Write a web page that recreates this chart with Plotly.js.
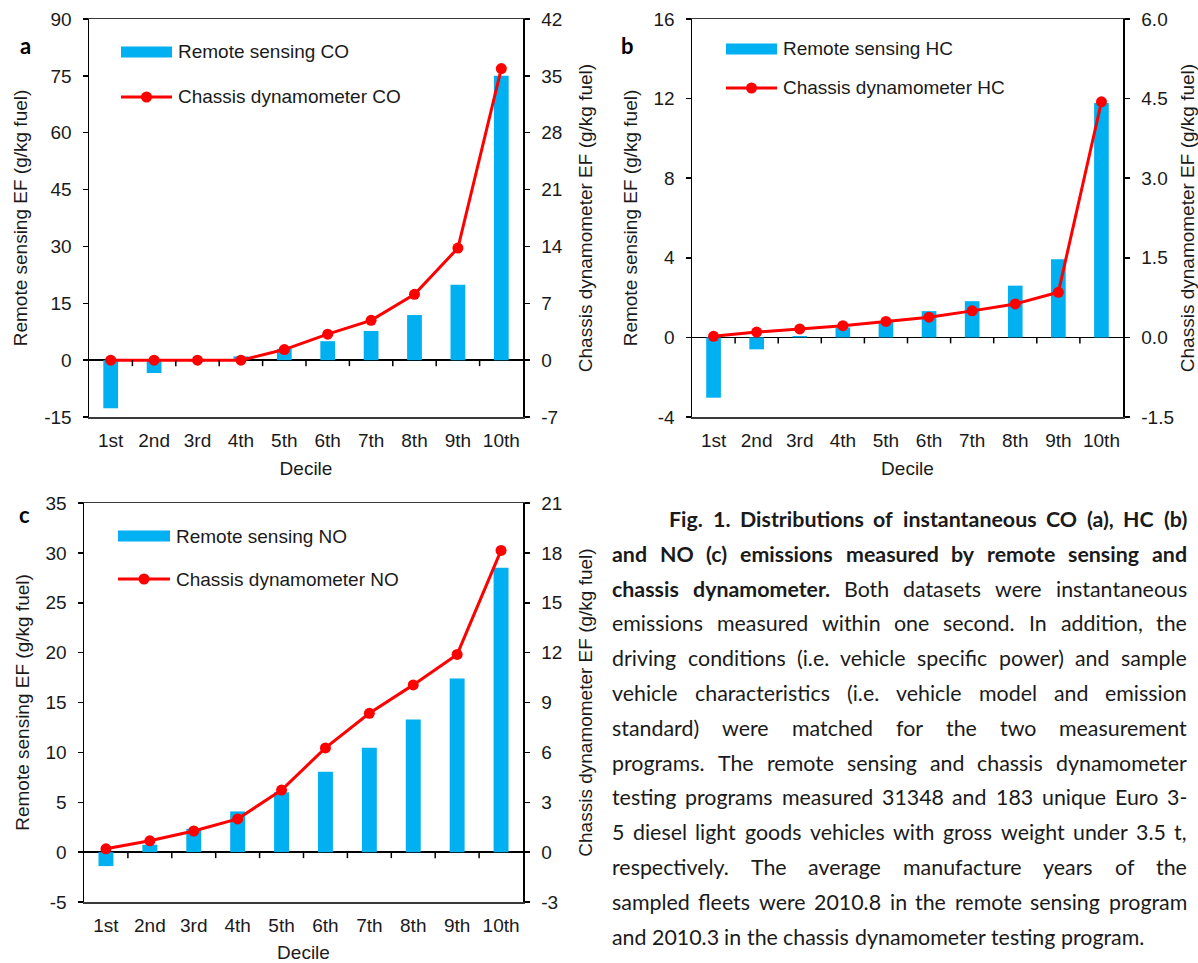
<!DOCTYPE html>
<html>
<head>
<meta charset="utf-8">
<script src="https://cdn.plot.ly/plotly-3.0.1.min.js"></script>
<style>
  html, body { margin: 0; padding: 0; background: #fff; }
  #chart { width: 1198px; height: 963px; }
</style>
</head>
<body>
<div id="chart"></div>
<script>
// ---------------- data ----------------
const categories = ['1st', '2nd', '3rd', '4th', '5th', '6th', '7th', '8th', '9th', '10th'];
const rsCO = [-12.7, -3.4, -0.4, 1.0, 3.0, 5.0, 7.7, 11.9, 19.9, 75.0];
const cdCO = [0.0, 0.0, 0.0, 0.0, 1.3, 3.2, 4.9, 8.1, 13.8, 35.9];
const rsHC = [-3.03, -0.6, 0.07, 0.5, 0.8, 1.32, 1.82, 2.6, 3.93, 11.78];
const cdHC = [0.02, 0.1, 0.16, 0.22, 0.3, 0.38, 0.5, 0.63, 0.85, 4.44];
const rsNO = [-1.4, 0.74, 2.34, 4.08, 6.0, 8.06, 10.47, 13.3, 17.4, 28.5];
const cdNO = [0.2, 0.68, 1.27, 2.0, 3.73, 6.27, 8.35, 10.06, 11.89, 18.15];

const seriesNames = [
  ['Remote sensing CO', 'Chassis dynamometer CO'],
  ['Remote sensing HC', 'Chassis dynamometer HC'],
  ['Remote sensing NO', 'Chassis dynamometer NO']
];
const leftTitle = 'Remote sensing EF (g/kg fuel)';
const rightTitle = 'Chassis dynamometer EF (g/kg fuel)';
const xTitle = 'Decile';
const panelLetters = ['a', 'b', 'c'];

const captionLines = [
  [['Fig. 1. Distributions of instantaneous CO (a), HC (b)', true]],
  [['and NO (c) emissions measured by remote sensing and', true]],
  [['chassis dynamometer.', true], ['Both datasets were instantaneous', false]],
  [['emissions measured within one second. In addition, the', false]],
  [['driving conditions (i.e. vehicle specific power) and sample', false]],
  [['vehicle characteristics (i.e. vehicle model and emission', false]],
  [['standard) were matched for the two measurement', false]],
  [['programs. The remote sensing and chassis dynamometer', false]],
  [['testing programs measured 31348 and 183 unique Euro 3-', false]],
  [['5 diesel light goods vehicles with gross weight under 3.5 t,', false]],
  [['respectively. The average manufacture years of the', false]],
  [['sampled fleets were 2010.8 in the remote sensing program', false]],
  [['and 2010.3 in the chassis dynamometer testing program.', false]]
];

// ---------------- styling ----------------
const W = 1198, H = 963;
const FONT = 'Liberation Sans, Arial, sans-serif';
const FS = 19;
const TXT = '#1a1a1a';
const BLUE = '#00B0F0';
const RED = '#FF0000';
const xs = categories.map((_, i) => i + 1);

function px(x) { return x / W; }
function py(y) { return 1 - y / H; }

function barTrace(vals, name, xa, ya) {
  return { type: 'bar', x: xs, y: vals, name: name, xaxis: xa, yaxis: ya,
    width: 0.34, marker: { color: BLUE, line: { width: 0 } }, showlegend: false };
}
function lineTrace(vals, name, xa, ya) {
  return { type: 'scatter', mode: 'lines+markers', x: xs, y: vals, name: name,
    xaxis: xa, yaxis: ya, line: { color: RED, width: 3 },
    marker: { color: RED, size: 11, symbol: 'circle' }, showlegend: false };
}

const traces = [
  barTrace(rsCO, seriesNames[0][0], 'x', 'y'),
  lineTrace(cdCO, seriesNames[0][1], 'x', 'y2'),
  barTrace(rsHC, seriesNames[1][0], 'x2', 'y3'),
  lineTrace(cdHC, seriesNames[1][1], 'x2', 'y4'),
  barTrace(rsNO, seriesNames[2][0], 'x3', 'y5'),
  lineTrace(cdNO, seriesNames[2][1], 'x3', 'y6')
];

function ticksFor(range, dtick, dec) {
  const vals = [], txt = [];
  const n = Math.round((range[1] - range[0]) / dtick);
  for (let i = 0; i <= n; i++) {
    const v = +(range[0] + i * dtick).toFixed(6);
    vals.push(v);
    txt.push(v.toFixed(dec)); // keeps ASCII hyphen for negatives
  }
  return { tickvals: vals, ticktext: txt };
}

function xAxis(dom, anchor) {
  return { domain: dom, anchor: anchor, range: [0.5, 10.5], tickvals: xs, ticktext: categories,
    showgrid: false, zeroline: false, showline: true, mirror: true, linecolor: '#3a3a3a', linewidth: 1.5,
    ticks: '', ticklabelstandoff: 6, tickfont: { family: FONT, size: FS, color: TXT },
    title: { text: xTitle, font: { family: FONT, size: FS, color: TXT }, standoff: 11 },
    automargin: false, fixedrange: true };
}
function yLeft(dom, anchor, range, dtick, dec) {
  const t = ticksFor(range, dtick, dec || 0);
  return { domain: dom, anchor: anchor, range: range, tickvals: t.tickvals, ticktext: t.ticktext,
    showgrid: false, zeroline: true, zerolinecolor: '#000', zerolinewidth: 1.5,
    showline: true, linecolor: '#000', linewidth: 1.5, ticks: 'outside', ticklen: 5, tickwidth: 1.5, tickcolor: '#000',
    ticklabelstandoff: 7, tickfont: { family: FONT, size: FS, color: TXT },
    title: { text: leftTitle, font: { family: FONT, size: FS, color: TXT }, standoff: 11 },
    automargin: false, fixedrange: true };
}
function yRight(overlay, anchor, range, dtick, dec, standoff) {
  const t = ticksFor(range, dtick, dec || 0);
  return { overlaying: overlay, anchor: anchor, side: 'right', range: range,
    tickvals: t.tickvals, ticktext: t.ticktext, showgrid: false, zeroline: false,
    showline: true, linecolor: '#000', linewidth: 1.5, ticks: 'outside', ticklen: 5, tickwidth: 1.5, tickcolor: '#000',
    ticklabelstandoff: 8, tickfont: { family: FONT, size: FS, color: TXT },
    title: { text: rightTitle, font: { family: FONT, size: FS, color: TXT }, standoff: standoff },
    automargin: false, fixedrange: true };
}

const domA = [px(89), px(523)], domB = [px(692), px(1123)], domC = [px(84), px(523)];
const domTop = [py(417), py(19)], domBot = [py(902), py(503)];

// tick marks on the zero line between categories
const shapes = [];
[['x', 'y'], ['x2', 'y3'], ['x3', 'y5']].forEach(([xa, ya]) => {
  for (let i = 1; i < categories.length; i++) {
    shapes.push({ type: 'line', xref: xa, yref: ya, x0: i + 0.5, x1: i + 0.5,
      ysizemode: 'pixel', yanchor: 0, y0: 0, y1: -6, line: { color: '#000', width: 1.5 } });
  }
});

const annotations = [];
// panel letters
[[18, 30], [627, 30], [17, 514]].forEach(([x, y], i) => {
  annotations.push({ text: '<b>' + panelLetters[i] + '</b>', x: px(x), y: py(y), xref: 'paper', yref: 'paper',
    showarrow: false, font: { family: 'Lato, sans-serif', size: 22, color: '#000' } });
});

// legends (swatch + text) for each panel: [swatchLeft, swatchRight, textX, row1Y, row2Y]
const legendPos = [[121, 172, 177, 52, 97], [726, 777, 782, 49, 88], [118, 170, 175, 536, 579]];
legendPos.forEach(([s0, s1, tx, r1, r2], i) => {
  shapes.push({ type: 'rect', xref: 'paper', yref: 'paper', x0: px(s0), x1: px(s1), y0: py(r1 - 5.5), y1: py(r1 + 5.5),
    fillcolor: BLUE, line: { width: 0 } });
  shapes.push({ type: 'line', xref: 'paper', yref: 'paper', x0: px(s0), x1: px(s1), y0: py(r2), y1: py(r2),
    line: { color: RED, width: 3 } });
  const cx = (s0 + s1) / 2;
  shapes.push({ type: 'circle', xref: 'paper', yref: 'paper', x0: px(cx - 5.5), x1: px(cx + 5.5), y0: py(r2 - 5.5), y1: py(r2 + 5.5),
    fillcolor: RED, line: { width: 0 } });
  [[seriesNames[i][0], r1], [seriesNames[i][1], r2]].forEach(([t, y]) => {
    annotations.push({ text: t, x: px(tx), y: py(y), xref: 'paper', yref: 'paper', xanchor: 'left', yanchor: 'middle',
      showarrow: false, borderpad: 0, font: { family: FONT, size: FS, color: TXT } });
  });
});

// ---------------- caption layout (justified text) ----------------
const CAP_FONT = 'Lato';
const cv = document.createElement('canvas').getContext('2d');
function measure(t, bold, size) { cv.font = (bold ? 'bold ' : '') + size + 'px ' + CAP_FONT; return cv.measureText(t).width; }
function wordsOf(line) {
  const w = [];
  line.forEach(([t, b]) => t.split(' ').forEach(s => { if (s) w.push([s, b]); }));
  return w;
}
const lastWords = wordsOf(captionLines[captionLines.length - 1]);
const refSize = 20;
const lastW = lastWords.reduce((s, [t, b]) => s + measure(t, b, refSize), 0) + (lastWords.length - 1) * measure(' ', false, refSize);
let capSize = refSize * 532 / lastW;
capSize = Math.max(15, Math.min(23, capSize));
const capLeft = 611, capRight = 1186, capIndent = 668, capTop = 519, capStep = 34.8;
captionLines.forEach((line, li) => {
  const words = wordsOf(line);
  const x0 = li === 0 ? capIndent : capLeft;
  const widths = words.map(([t, b]) => measure(t, b, capSize));
  const total = widths.reduce((a, b) => a + b, 0);
  const isLast = li === captionLines.length - 1;
  const gap = isLast ? measure(' ', false, capSize) : (capRight - x0 - total) / (words.length - 1);
  let x = x0;
  words.forEach(([t, b], wi) => {
    annotations.push({ text: b ? '<b>' + t + '</b>' : t, x: px(x), y: py(capTop + li * capStep),
      xref: 'paper', yref: 'paper', xanchor: 'left', yanchor: 'middle', showarrow: false,
      borderpad: 0, font: { family: CAP_FONT + ', sans-serif', size: capSize, color: '#1a1a1a' } });
    x += widths[wi] + gap;
  });
});

const layout = {
  width: W, height: H, margin: { l: 0, r: 0, t: 0, b: 0 },
  paper_bgcolor: '#fff', plot_bgcolor: 'rgba(0,0,0,0)', showlegend: false,
  barmode: 'overlay',
  xaxis: xAxis(domA, 'y'),
  yaxis: yLeft(domTop, 'x', [-15, 90], 15),
  yaxis2: yRight('y', 'x', [-7, 42], 7, 0, 17),
  xaxis2: xAxis(domB, 'y3'),
  yaxis3: yLeft(domTop, 'x2', [-4, 16], 4),
  yaxis4: yRight('y3', 'x2', [-1.5, 6], 1.5, 1, 12),
  xaxis3: xAxis(domC, 'y5'),
  yaxis5: yLeft(domBot, 'x3', [-5, 35], 5),
  yaxis6: yRight('y5', 'x3', [-3, 21], 3, 0, 17),
  shapes: shapes,
  annotations: annotations
};

Plotly.newPlot('chart', traces, layout, { displayModeBar: false, staticPlot: true });
</script>
</body>
</html>
